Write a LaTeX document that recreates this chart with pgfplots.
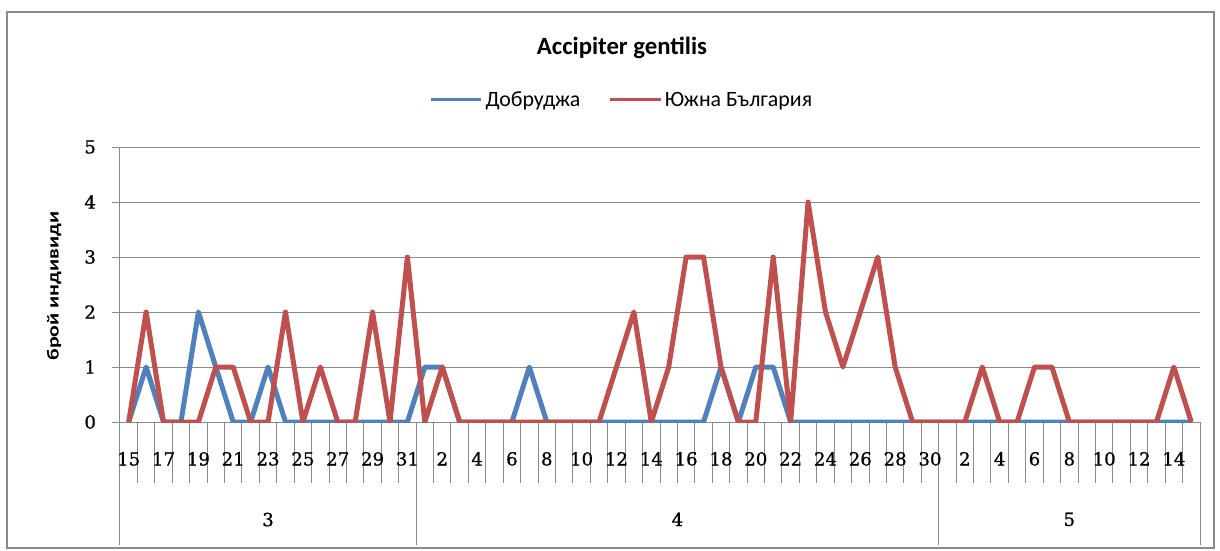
\documentclass[border=0pt]{standalone}
\usepackage{pgfplots}
\pgfplotsset{compat=1.18}
\usepackage{pgfplotstable}
\usepackage{fontspec}
\setmainfont{Carlito}
\newfontfamily\tickfont[FakeBold=0.8]{DejaVu Serif}
\definecolor{dblue}{HTML}{4F81BD}
\definecolor{dred}{HTML}{C0504D}
\definecolor{gridgray}{HTML}{8A8A8A}

\pgfplotstableread{
idx blue red
0 0 0
1 1 2
2 0 0
3 0 0
4 2 0
5 1 1
6 0 1
7 0 0
8 1 0
9 0 2
10 0 0
11 0 1
12 0 0
13 0 0
14 0 2
15 0 0
16 0 3
17 1 0
18 1 1
19 0 0
20 0 0
21 0 0
22 0 0
23 1 0
24 0 0
25 0 0
26 0 0
27 0 0
28 0 1
29 0 2
30 0 0
31 0 1
32 0 3
33 0 3
34 1 1
35 0 0
36 1 0
37 1 3
38 0 0
39 0 4
40 0 2
41 0 1
42 0 2
43 0 3
44 0 1
45 0 0
46 0 0
47 0 0
48 0 0
49 0 1
50 0 0
51 0 0
52 0 1
53 0 1
54 0 0
55 0 0
56 0 0
57 0 0
58 0 0
59 0 0
60 0 1
61 0 0
}\datatable

\begin{document}
\begin{tikzpicture}
\path[use as bounding box] (-90pt,-96pt) rectangle (825pt,316.5pt);
\draw[gridgray, line width=1.5pt] (-84.75pt,-94.5pt) rectangle (820.5pt,307.5pt);
\pgfplotsset{
  base/.style={width=810pt, height=206.25pt, scale only axis,
    xmin=-0.5, xmax=61.5, ymin=0, ymax=5,
    at={(0pt,0pt)}, anchor=south west,
    axis lines*=left, tick align=outside,
    tick style={gridgray, line width=0.75pt},
    tick label style={font=\tickfont\fontsize{13.6}{15}\selectfont},
    /pgf/number format/assume math mode=true},
}
% month boundaries and month labels
\begin{axis}[base,
  axis line style={draw=none},
  ytick=\empty,
  xtick={8,31.5,54}, xticklabels={3,4,5},
  minor xtick={-0.5,16.5,46.5,61.5},
  major tick length=0pt, minor tick length=92.25pt,
  xticklabel style={yshift=-64.5pt},
]
\end{axis}
% y tick marks
\begin{axis}[base,
  axis line style={draw=none},
  xtick=\empty, ytick={0,1,2,3,4,5}, yticklabels={},
  major tick length=6pt,
]
\end{axis}
% main axis
\begin{axis}[base,
  axis line style={gridgray, line width=0.75pt},
  ytick={0,1,2,3,4,5},
  ymajorgrids, grid style={gridgray, line width=0.75pt},
  xtick={0,2,...,60},
  xticklabels={15,17,19,21,23,25,27,29,31,2,4,6,8,10,12,14,16,18,20,22,24,26,28,30,2,4,6,8,10,12,14},
  minor xtick={-0.5,0.5,...,61.5},
  major tick length=0pt, minor tick length=45.75pt,
  xticklabel style={yshift=-19pt},
  yticklabel style={xshift=-14.5pt},
  title={Accipiter gentilis},
  title style={at={(axis description cs:0.4648,1.331)}, anchor=center,
    font=\fontsize{18.6}{22}\selectfont\bfseries},
  ylabel={\scalebox{1.3}[1]{брой индивиди}},
  ylabel style={at={(axis description cs:-0.061,0.4945)}, anchor=center,
    font=\fontsize{12.6}{15}\selectfont\bfseries},
  legend style={at={(axis description cs:0.4648,1.171)}, anchor=center,
    draw=none, fill=none, font=\fontsize{16.4}{18}\selectfont,
    /tikz/every even column/.append style={column sep=19pt}},
  legend columns=2,
  legend image code/.code={\draw[line width=2.25pt] (0pt,0pt) -- (38pt,0pt);},
  line join=round,
]
\addplot[dblue, line width=3.75pt] table[x=idx, y=blue] {\datatable};
\addlegendentry{Добруджа}
\addplot[dred, line width=3.75pt] table[x=idx, y=red] {\datatable};
\addlegendentry{Южна България}
\end{axis}
\end{tikzpicture}
\end{document}
